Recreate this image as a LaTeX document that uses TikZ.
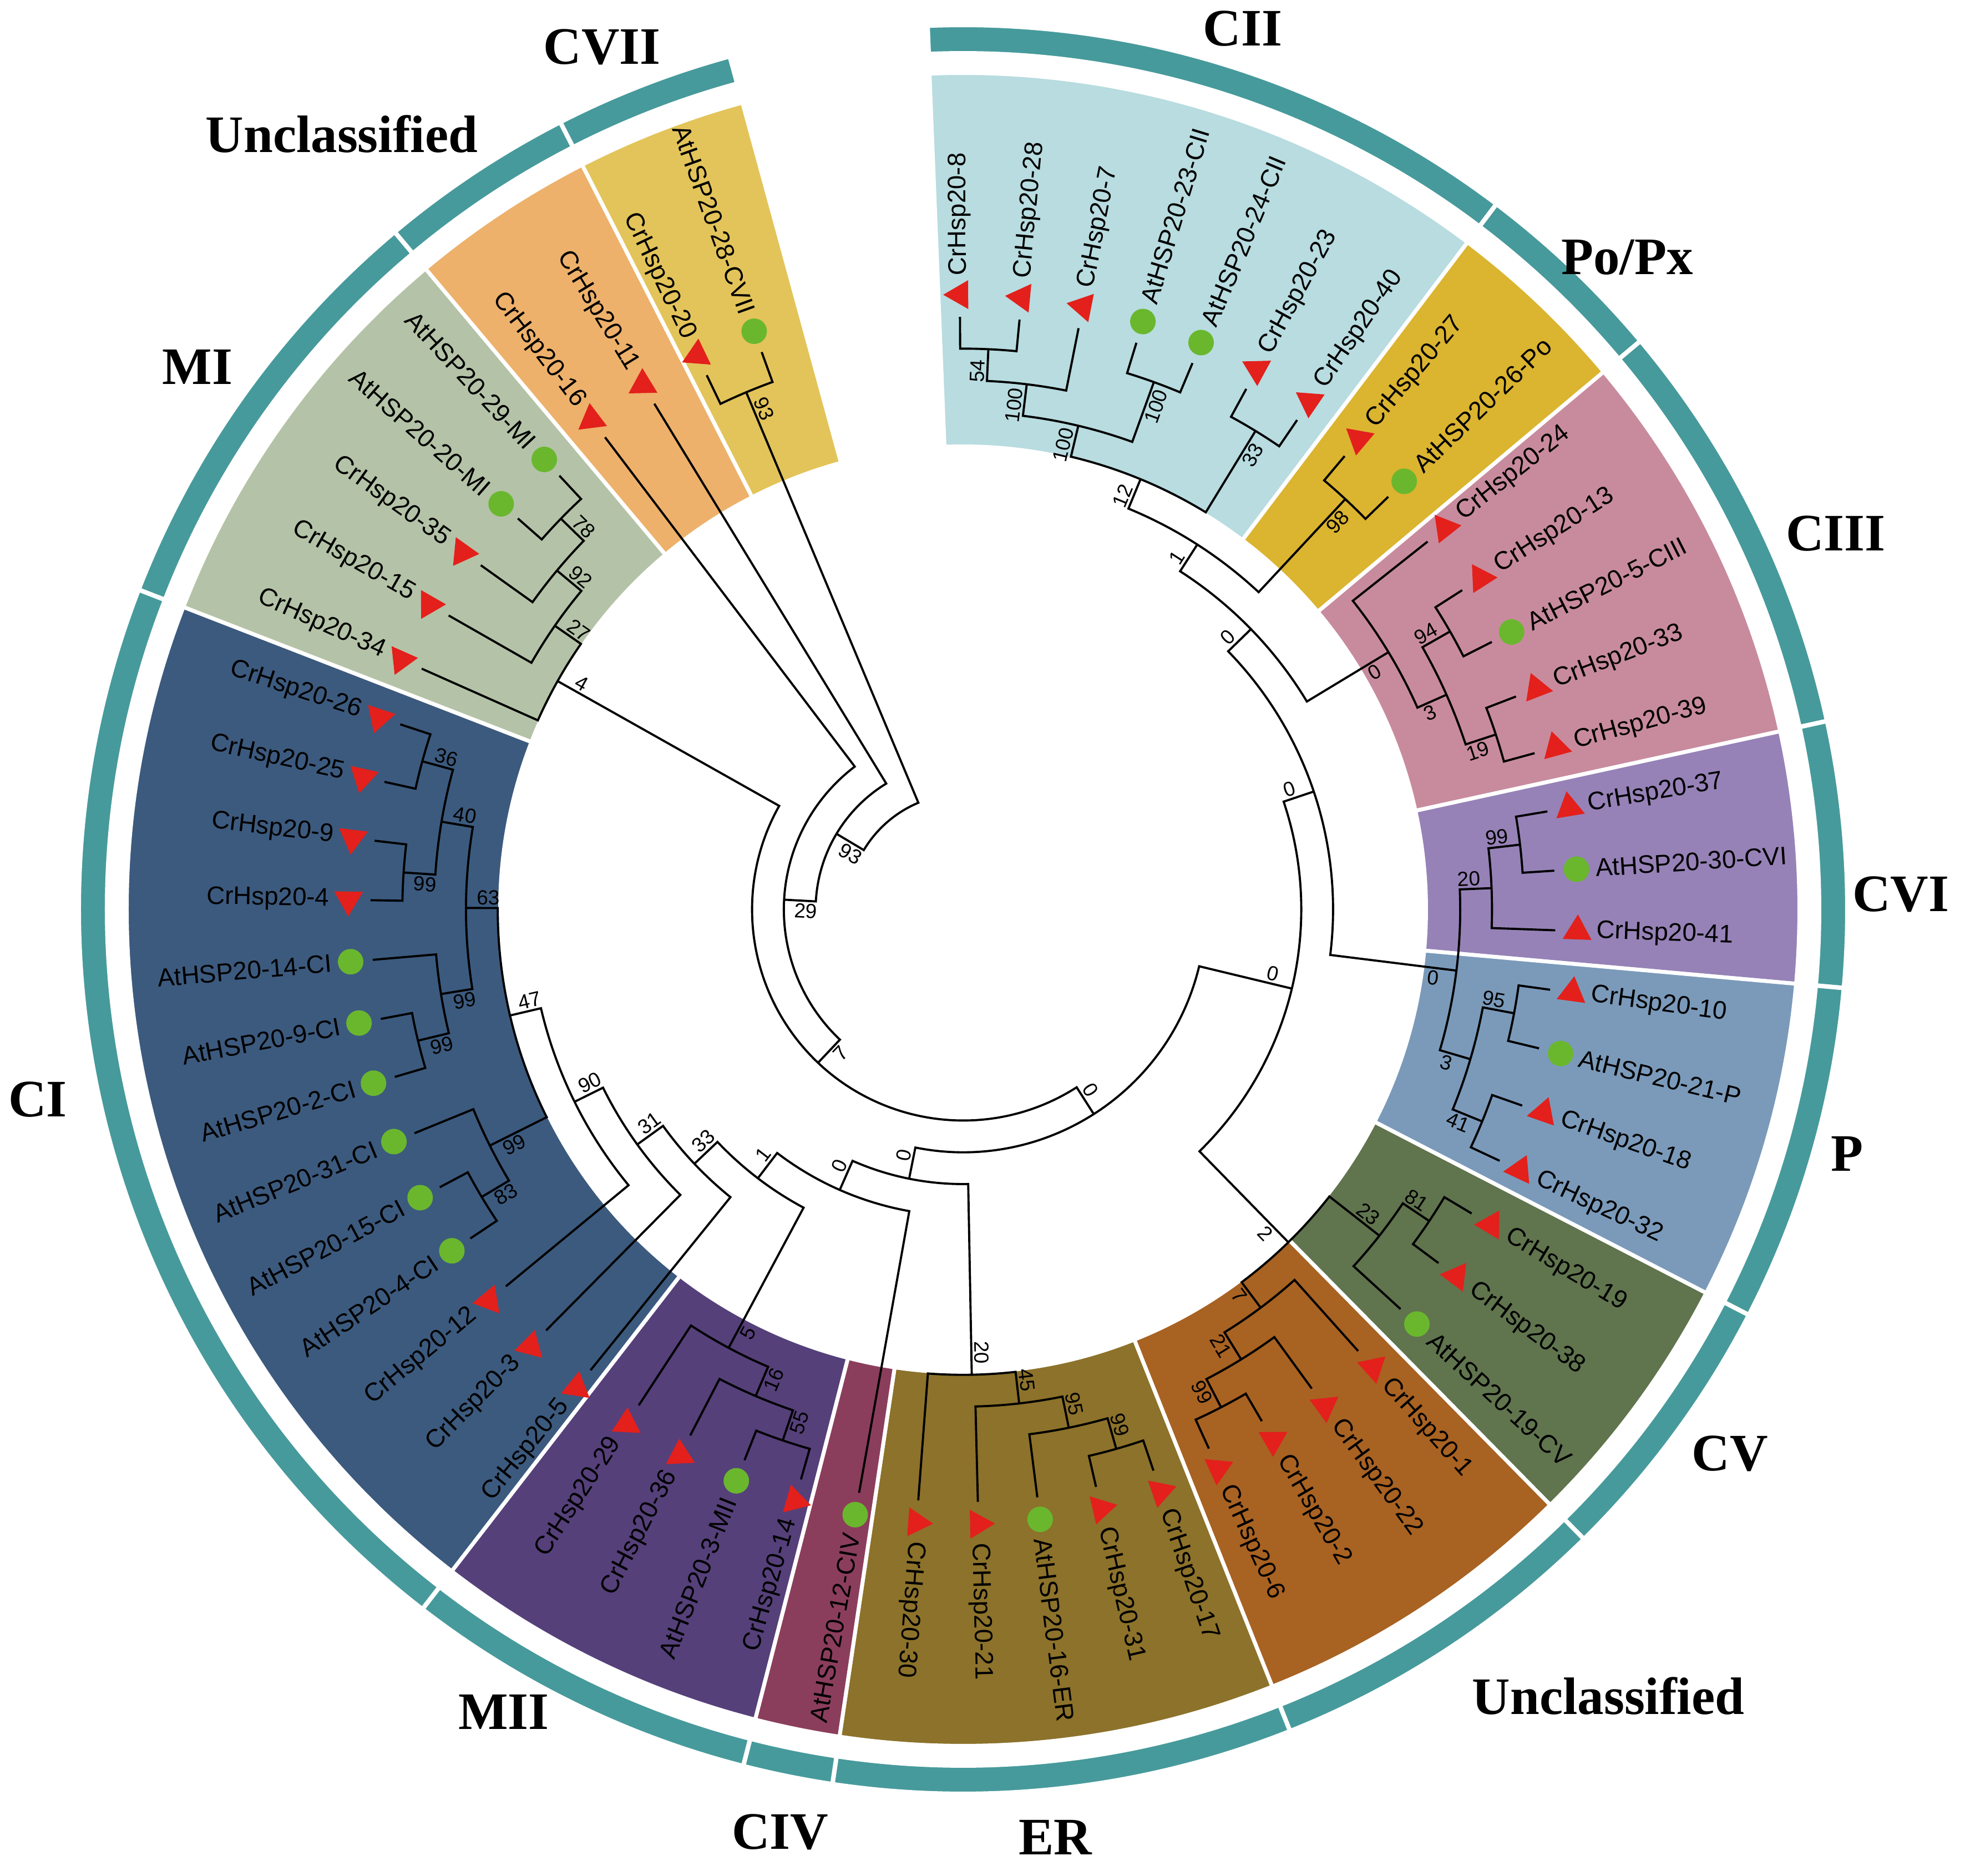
\documentclass[tikz,border=0pt]{standalone}
\usepackage{fontspec}
\setmainfont{Liberation Sans}
\newfontfamily\grpfont{Liberation Serif}
\usetikzlibrary{shapes.geometric}

\definecolor{ringteal}{HTML}{479A9B}
\definecolor{trired}{HTML}{E3201B}
\definecolor{atgreen}{HTML}{6AB72E}
\definecolor{cII}{HTML}{B8DCE0}
\definecolor{poPx}{HTML}{DBB430}
\definecolor{cIII}{HTML}{C88B9E}
\definecolor{cVI}{HTML}{9682B7}
\definecolor{pP}{HTML}{7B9ABA}
\definecolor{cV}{HTML}{60744E}
\definecolor{unclB}{HTML}{A86222}
\definecolor{eR}{HTML}{8C722A}
\definecolor{cIV}{HTML}{8B3E5B}
\definecolor{mII}{HTML}{55407A}
\definecolor{cI}{HTML}{3C5A7E}
\definecolor{mI}{HTML}{B4C3A7}
\definecolor{unclA}{HTML}{EDB16B}
\definecolor{cVII}{HTML}{E3C45A}

\newcommand\rtip{10.68}
\newcommand\hstep{0.573}
% name, angle, radius, bootstrap
\newcommand\setnode[4]{%
  \expandafter\xdef\csname tnA#1\endcsname{#2}%
  \expandafter\xdef\csname tnR#1\endcsname{#3}%
  \expandafter\xdef\csname tnB#1\endcsname{#4}%
  \coordinate (#1) at (#2:#3);}
% bootstrap value of a child, on the side away from its sibling
\newcommand\bslabel[2]{%
  \edef\bsT{\csname tnB#1\endcsname}%
  \ifx\bsT\empty\else
    \edef\bsA{\csname tnA#1\endcsname}\edef\bsQ{\csname tnR#1\endcsname}%
    \pgfmathsetmacro\bsR{\bsQ-0.4}%
    \pgfmathtruncatemacro\bsH{and(\bsA>=-97,\bsA<=91)}%
    \pgfmathtruncatemacro\bsS{(2*\bsH-1)*#2}%
    \ifnum\bsH=1 \edef\bsRot{\bsA}\else\pgfmathsetmacro\bsRot{\bsA+180}\fi
    \ifnum\bsS>0 \def\bsAnc{south}\else\def\bsAnc{north}\fi
    \node[boot, rotate=\bsRot, anchor=\bsAnc] (B#1) at (\bsA:\bsR) {\bsT};
  \fi}
% name, ccw child, cw child, depth, bootstrap
\newcommand\clade[5]{%
  \edef\cA{\csname tnA#2\endcsname}\edef\cB{\csname tnA#3\endcsname}%
  \pgfmathsetmacro\cM{(\cA+\cB)/2}%
  \pgfmathsetmacro\cR{\rtip-#4*\hstep}%
  \setnode{#1}{\cM}{\cR}{#5}%
  \draw[branch] (#2) -- (\cA:\cR) arc[start angle=\cA, end angle=\cB, radius=\cR] -- (#3);
  \bslabel{#2}{1}\bslabel{#3}{-1}}

\begin{document}
\begin{tikzpicture}[
  branch/.style={line width=1.1pt},
  crmark/.style={regular polygon, regular polygon sides=3, fill=trired, inner sep=0pt, minimum size=0.6cm},
  atmark/.style={circle, fill=atgreen, inner sep=0pt, minimum size=0.46cm},
  leaflab/.style={font=\fontsize{13}{15}\selectfont, inner sep=0pt},
  boot/.style={font=\fontsize{10.5}{12}\selectfont, inner sep=1.3pt},
  grp/.style={font=\grpfont\bfseries\fontsize{27}{30}\selectfont}]
\useasboundingbox (-17.36,-17.42) rectangle (18.15,16.39);

% coloured sectors and outer ring
\foreach \sa/\ea/\col in {92.3/52.9/cII, 52.9/40.0/poPx, 40.0/12.3/cIII, 12.3/-5.1/cVI,
    -5.1/-27.3/pP, -27.3/-45.4/cV, -45.4/-68.3/unclB, -68.3/-98.5/eR, -98.5/-104.4/cIV,
    -104.4/-127.7/mII, -127.7/-201.2/cI, -201.2/-230.0/mI, -230.0/-242.9/unclA, -242.9/-254.7/cVII} {
  \fill[\col, draw=white, line width=0.07cm] (\sa:8.345) arc[start angle=\sa, end angle=\ea, radius=8.345]
    -- (\ea:15.075) arc[start angle=\ea, end angle=\sa, radius=15.075] -- cycle;
  \fill[ringteal, draw=white, line width=0.08cm] (\sa:15.43) arc[start angle=\sa, end angle=\ea, radius=15.43]
    -- (\ea:15.94) arc[start angle=\ea, end angle=\sa, radius=15.94] -- cycle;
}

% leaves
\foreach \i/\nm/\tp in {0/CrHsp20-8/crmark, 1/CrHsp20-28/crmark, 2/CrHsp20-7/crmark,
    3/AtHSP20-23-CII/atmark, 4/AtHSP20-24-CII/atmark, 5/CrHsp20-23/crmark, 6/CrHsp20-40/crmark,
    7/CrHsp20-27/crmark, 8/AtHSP20-26-Po/atmark, 9/CrHsp20-24/crmark, 10/CrHsp20-13/crmark,
    11/AtHSP20-5-CIII/atmark, 12/CrHsp20-33/crmark, 13/CrHsp20-39/crmark, 14/CrHsp20-37/crmark,
    15/AtHSP20-30-CVI/atmark, 16/CrHsp20-41/crmark, 17/CrHsp20-10/crmark, 18/AtHSP20-21-P/atmark,
    19/CrHsp20-18/crmark, 20/CrHsp20-32/crmark, 21/CrHsp20-19/crmark, 22/CrHsp20-38/crmark,
    23/AtHSP20-19-CV/atmark, 24/CrHsp20-1/crmark, 25/CrHsp20-22/crmark, 26/CrHsp20-2/crmark,
    27/CrHsp20-6/crmark, 28/CrHsp20-17/crmark, 29/CrHsp20-31/crmark, 30/AtHSP20-16-ER/atmark,
    31/CrHsp20-21/crmark, 32/CrHsp20-30/crmark, 33/AtHSP20-12-CIV/atmark, 34/CrHsp20-14/crmark,
    35/AtHSP20-3-MII/atmark, 36/CrHsp20-36/crmark, 37/CrHsp20-29/crmark, 38/CrHsp20-5/crmark,
    39/CrHsp20-3/crmark, 40/CrHsp20-12/crmark, 41/AtHSP20-4-CI/atmark, 42/AtHSP20-15-CI/atmark,
    43/AtHSP20-31-CI/atmark, 44/AtHSP20-2-CI/atmark, 45/AtHSP20-9-CI/atmark, 46/AtHSP20-14-CI/atmark,
    47/CrHsp20-4/crmark, 48/CrHsp20-9/crmark, 49/CrHsp20-25/crmark, 50/CrHsp20-26/crmark,
    51/CrHsp20-34/crmark, 52/CrHsp20-15/crmark, 53/CrHsp20-35/crmark, 54/AtHSP20-20-MI/atmark,
    55/AtHSP20-29-MI/atmark, 56/CrHsp20-16/crmark, 57/CrHsp20-11/crmark, 58/CrHsp20-20/crmark,
    59/AtHSP20-28-CVII/atmark} {
  \pgfmathsetmacro\lA{90.3-5.77*\i}
  \setnode{L\i}{\lA}{\rtip}{}
  \node[\tp, rotate=\lA] (M\i) at (\lA:11.08) {};
  \pgfmathtruncatemacro\lH{and(\lA>=-97,\lA<=91)}
  \ifnum\lH=1
    \node[leaflab, anchor=west, rotate=\lA] (T\i) at (\lA:11.42) {\nm};
  \else
    \pgfmathsetmacro\lR{\lA+180}
    \node[leaflab, anchor=east, rotate=\lR] (T\i) at (\lA:11.42) {\nm};
  \fi
}

% CII, Po/Px, CIII
\clade{n54}{L0}{L1}{1}{54}
\clade{n100a}{n54}{L2}{2}{100}
\clade{n100b}{L3}{L4}{1}{100}
\clade{n100c}{n100a}{n100b}{3}{100}
\clade{n33a}{L5}{L6}{1}{33}
\clade{n12}{n100c}{n33a}{4}{12}
\clade{n98}{L7}{L8}{1}{98}
\clade{n1a}{n12}{n98}{5}{1}
\clade{n94}{L10}{L11}{1}{94}
\clade{n19}{L12}{L13}{1}{19}
\clade{n3a}{n94}{n19}{2}{3}
\clade{n0a}{L9}{n3a}{3}{0}
\clade{n0b}{n1a}{n0a}{6}{0}
% CVI, P
\clade{n99a}{L14}{L15}{1}{99}
\clade{n20a}{n99a}{L16}{2}{20}
\clade{n95a}{L17}{L18}{1}{95}
\clade{n41}{L19}{L20}{1}{41}
\clade{n3b}{n95a}{n41}{2}{3}
\clade{n0c}{n20a}{n3b}{3}{0}
\clade{n0d}{n0b}{n0c}{7}{0}
% CV, unclassified
\clade{n81}{L21}{L22}{1}{81}
\clade{n23}{n81}{L23}{2}{23}
\clade{n99b}{L26}{L27}{1}{99}
\clade{n21}{L25}{n99b}{2}{21}
\clade{n7a}{L24}{n21}{3}{7}
\clade{n2}{n23}{n7a}{4}{2}
\clade{n0e}{n0d}{n2}{8}{0}
% ER, MII, CI
\clade{n99c}{L28}{L29}{1}{99}
\clade{n95b}{n99c}{L30}{2}{95}
\clade{n45}{n95b}{L31}{3}{45}
\clade{n20b}{n45}{L32}{4}{20}
\clade{n55}{L34}{L35}{1}{55}
\clade{n16}{n55}{L36}{2}{16}
\clade{n5}{n16}{L37}{3}{5}
\clade{n83}{L41}{L42}{1}{83}
\clade{n99d}{n83}{L43}{2}{99}
\clade{n99e}{L44}{L45}{1}{99}
\clade{n99f}{n99e}{L46}{2}{99}
\clade{n99g}{L47}{L48}{1}{99}
\clade{n36}{L49}{L50}{1}{36}
\clade{n40}{n99g}{n36}{2}{40}
\clade{n63}{n99f}{n40}{3}{63}
\clade{n47}{n99d}{n63}{4}{47}
\clade{n90}{L40}{n47}{5}{90}
\clade{n31}{L39}{n90}{6}{31}
\clade{n33b}{L38}{n31}{7}{33}
\clade{n1b}{n5}{n33b}{8}{1}
\clade{n0f}{L33}{n1b}{9}{0}
\clade{n0g}{n20b}{n0f}{10}{0}
\clade{n0h}{n0e}{n0g}{11}{0}
% MI, CVII and root
\clade{n78}{L54}{L55}{1}{78}
\clade{n92}{L53}{n78}{2}{92}
\clade{n27}{L52}{n92}{3}{27}
\clade{n4}{L51}{n27}{4}{4}
\clade{n7b}{n0h}{n4}{12}{7}
\clade{n29}{n7b}{L56}{13}{29}
\clade{n93a}{n29}{L57}{14}{93}
\clade{n93b}{L58}{L59}{1}{93}
\clade{root}{n93a}{n93b}{15}{}

% group names
\node[grp] (gCVII) at (-6.51,15.54) {CVII};
\node[grp] (gCII) at (5.04,15.87) {CII};
\node[grp] (gUnA) at (-11.20,13.97) {Unclassified};
\node[grp] (gPo) at (11.97,11.75) {Po/Px};
\node[grp] (gMI) at (-13.80,9.78) {MI};
\node[grp] (gCIII) at (15.73,6.77) {CIII};
\node[grp] (gCVI) at (16.90,0.27) {CVI};
\node[grp] (gCI) at (-16.68,-3.43) {CI};
\node[grp] (gP) at (15.93,-4.40) {P};
\node[grp] (gCV) at (13.82,-9.81) {CV};
\node[grp] (gUnB) at (11.63,-14.18) {Unclassified};
\node[grp] (gMII) at (-8.28,-14.46) {MII};
\node[grp] (gCIV) at (-3.30,-16.63) {CIV};
\node[grp] (gER) at (1.66,-16.72) {ER};
\end{tikzpicture}
\end{document}
